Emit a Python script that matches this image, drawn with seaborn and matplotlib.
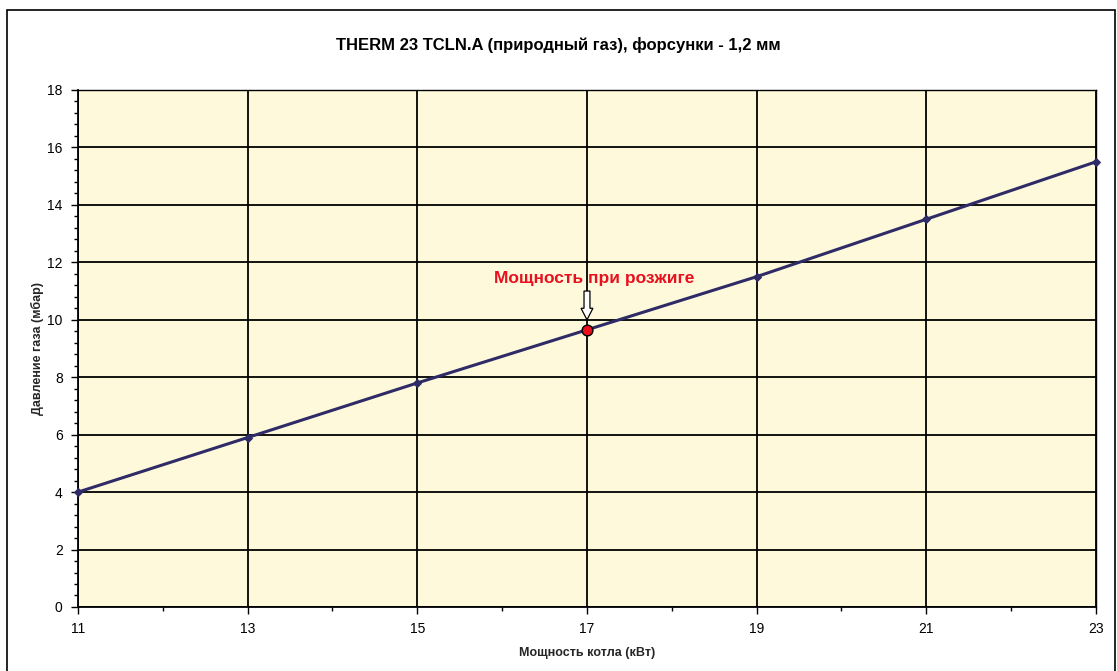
import numpy as np
import pandas as pd
import seaborn as sns
import matplotlib.pyplot as plt
from matplotlib.patches import Rectangle, FancyArrow
from matplotlib.ticker import MultipleLocator

# data
power_kw = [11, 13, 15, 17, 19, 21, 23]
pressure_mbar = [4.0, 5.9, 7.8, 9.65, 11.5, 13.5, 15.5]
ignition_power = 17
ignition_pressure = 9.65

df = pd.DataFrame({'power': power_kw, 'pressure': pressure_mbar})

sns.set_style('white')
plt.rcParams['font.family'] = ['Liberation Sans', 'DejaVu Sans']
plt.rcParams['text.color'] = 'black'

fig = plt.figure(figsize=(11.17, 6.71), dpi=100)
ax = fig.add_axes([0.0698, 0.0954, 0.9114, 0.7705])
ax.set_facecolor('#FFF9DC')

sns.lineplot(data=df, x='power', y='pressure', ax=ax, color='#2E2B66',
             linewidth=2.2, marker='D', markersize=4.5, markeredgecolor='#2E2B66',
             clip_on=False, zorder=3)

ax.scatter([ignition_power], [ignition_pressure], s=60, color='#E8101E',
           edgecolor='black', linewidth=1.0, zorder=5, clip_on=False)

# arrow pointing to ignition point
ax.add_patch(FancyArrow(ignition_power, 11.0, 0, -1.0, width=0.07,
                        head_width=0.14, head_length=0.4,
                        length_includes_head=True, facecolor='white',
                        edgecolor='black', linewidth=0.9, zorder=6))
ax.text(ignition_power + 0.08, 11.45, 'Мощность при розжиге', color='#E8101E',
        fontsize=12.5, fontweight='bold', ha='center', va='center', zorder=6)

ax.set_xlim(11, 23)
ax.set_ylim(0, 18)
ax.set_xticks(power_kw)
ax.set_xticks(np.arange(12, 23, 2), minor=True)
ax.yaxis.set_major_locator(MultipleLocator(2))
ax.yaxis.set_minor_locator(MultipleLocator(0.4))
ax.tick_params(which='major', direction='out', length=5, width=1, color='black',
               labelsize=10, labelcolor='black', pad=6, left=True, bottom=True)
ax.tick_params(which='minor', direction='out', length=3, width=1, color='black',
               left=True, bottom=True)
ax.grid(True, which='major', color='black', linewidth=1.3, zorder=1)
ax.set_axisbelow(True)
for side in ['left', 'bottom']:
    ax.spines[side].set_color('black')
    ax.spines[side].set_linewidth(1.3)
for side in ['top', 'right']:
    ax.spines[side].set_color('black')
    ax.spines[side].set_linewidth(1.0)

ax.set_xlabel('Мощность котла (кВт)', fontsize=9, fontweight='bold', labelpad=8)
ax.set_ylabel('Давление газа (мбар)', fontsize=9, fontweight='bold')
ax.yaxis.set_label_coords(-0.033, 0.5)

fig.text(0.5, 0.933, 'THERM 23 TCLN.A (природный газ), форсунки - 1,2 мм',
         ha='center', va='center', fontsize=12, fontweight='bold')

# outer chart frame
fig.patches.append(Rectangle((7 / 1117, -0.05), 1108 / 1117, 1 - 10 / 671 + 0.05,
                             transform=fig.transFigure, fill=False,
                             edgecolor='black', linewidth=1.2))

fig.savefig('out.png', dpi=100)
